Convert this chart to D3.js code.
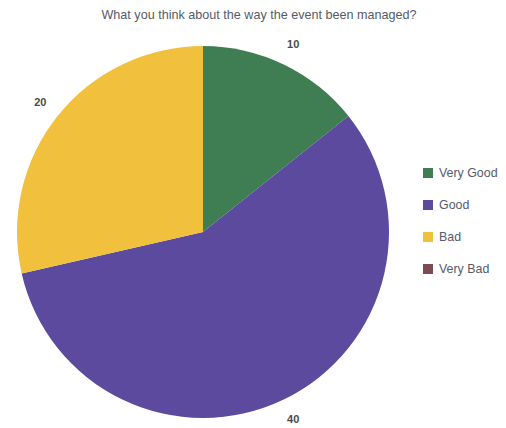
<!DOCTYPE html>
<html>
<head>
<meta charset="utf-8">
<script src="https://cdn.jsdelivr.net/npm/d3@7/dist/d3.min.js"></script>
<style>
  html, body { margin: 0; padding: 0; background: #fff; }
  svg { display: block; font-family: "Liberation Sans", Arial, sans-serif; }
</style>
</head>
<body>
<svg id="chart" width="506" height="428"></svg>
<script>
const title = "What you think about the way the event been managed?";
const categories = ["Very Good", "Good", "Bad", "Very Bad"];
const values = [10, 40, 20, 0];
const colors = ["#3f7d52", "#5b4a9e", "#f1c13e", "#7e4b52"];

const svg = d3.select("#chart");
const cx = 203, cy = 232, radius = 186, labelRadius = 208;

svg.append("text")
  .attr("x", 259).attr("y", 19)
  .attr("text-anchor", "middle")
  .attr("font-size", 12.6)
  .attr("fill", "#555a68")
  .text(title);

const data = categories.map((c, i) => ({ name: c, value: values[i], color: colors[i] }));
const pie = d3.pie().value(d => d.value).sort(null);
const arcs = pie(data);
const arc = d3.arc().innerRadius(0).outerRadius(radius);
const labelArc = d3.arc().innerRadius(labelRadius).outerRadius(labelRadius);

const g = svg.append("g").attr("transform", `translate(${cx},${cy})`);
g.selectAll("path.slice")
  .data(arcs.filter(d => d.value > 0))
  .join("path")
  .attr("class", "slice")
  .attr("d", arc)
  .attr("fill", d => d.data.color);

g.selectAll("text.val")
  .data(arcs.filter(d => d.value > 0))
  .join("text")
  .attr("class", "val")
  .attr("transform", d => `translate(${labelArc.centroid(d)})`)
  .attr("text-anchor", "middle")
  .attr("dy", "0.35em")
  .attr("font-size", 11)
  .attr("font-weight", "bold")
  .attr("fill", "#4a4a4a")
  .text(d => d.data.value);

const legend = svg.append("g").attr("transform", "translate(423,168)");
const item = legend.selectAll("g").data(data).join("g")
  .attr("transform", (d, i) => `translate(0,${i * 32})`);
item.append("rect").attr("width", 10).attr("height", 10).attr("fill", d => d.color);
item.append("text")
  .attr("x", 16).attr("y", 5).attr("dy", "0.35em")
  .attr("font-size", 12.4)
  .attr("fill", "#555a68")
  .text(d => d.name);
</script>
</body>
</html>
